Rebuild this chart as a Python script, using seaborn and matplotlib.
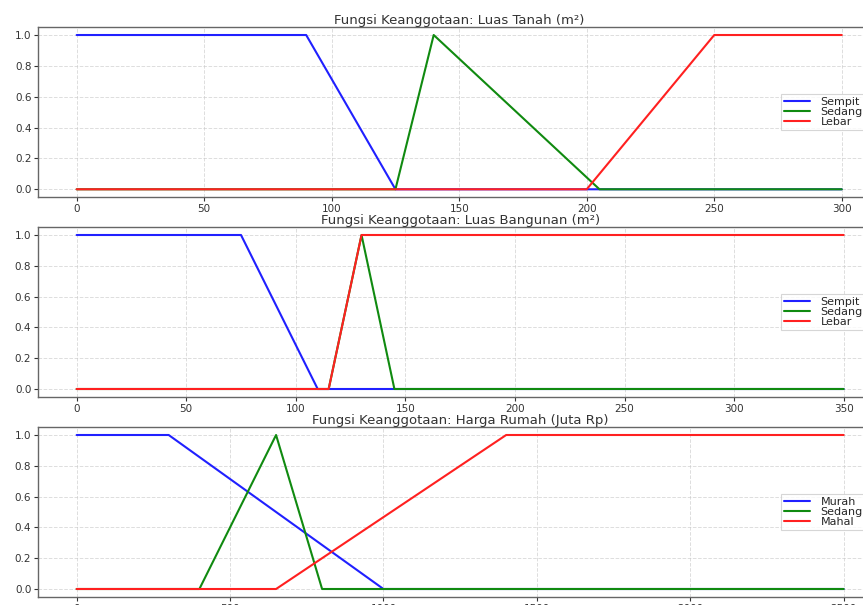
import numpy as np
import pandas as pd
import matplotlib
matplotlib.use("Agg")
import matplotlib.pyplot as plt
import seaborn as sns

# Breakpoints of the membership functions (x, degree)
tanah_sempit_x = [0, 90, 125, 300]
tanah_sempit_y = [1, 1, 0, 0]
tanah_sedang_x = [0, 125, 140, 205, 300]
tanah_sedang_y = [0, 0, 1, 0, 0]
tanah_lebar_x = [0, 200, 250, 300]
tanah_lebar_y = [0, 0, 1, 1]

bangunan_sempit_x = [0, 75, 110, 350]
bangunan_sempit_y = [1, 1, 0, 0]
bangunan_sedang_x = [0, 115, 130, 145, 350]
bangunan_sedang_y = [0, 0, 1, 0, 0]
bangunan_lebar_x = [0, 115, 130, 350]
bangunan_lebar_y = [0, 0, 1, 1]

harga_murah_x = [0, 300, 1000, 2500]
harga_murah_y = [1, 1, 0, 0]
harga_sedang_x = [0, 400, 650, 800, 2500]
harga_sedang_y = [0, 0, 1, 0, 0]
harga_mahal_x = [0, 650, 1400, 2500]
harga_mahal_y = [0, 0, 1, 1]

titles = [
    "Fungsi Keanggotaan: Luas Tanah (m²)",
    "Fungsi Keanggotaan: Luas Bangunan (m²)",
    "Fungsi Keanggotaan: Harga Rumah (Juta Rp)",
]
labels_tanah = ["Sempit", "Sedang", "Lebar"]
labels_bangunan = ["Sempit", "Sedang", "Lebar"]
labels_harga = ["Murah", "Sedang", "Mahal"]
colors = ["#2020ff", "#108a10", "#ff2020"]

panels = [
    (titles[0], labels_tanah,
     [(tanah_sempit_x, tanah_sempit_y), (tanah_sedang_x, tanah_sedang_y), (tanah_lebar_x, tanah_lebar_y)]),
    (titles[1], labels_bangunan,
     [(bangunan_sempit_x, bangunan_sempit_y), (bangunan_sedang_x, bangunan_sedang_y), (bangunan_lebar_x, bangunan_lebar_y)]),
    (titles[2], labels_harga,
     [(harga_murah_x, harga_murah_y), (harga_sedang_x, harga_sedang_y), (harga_mahal_x, harga_mahal_y)]),
]

sns.set_style("ticks")
plt.rcParams["font.family"] = ["DejaVu Sans"]

fig = plt.figure(figsize=(8.63, 6.05), dpi=100)
W, H = 863.0, 605.0
# axes boxes in pixels: (left, top, right, bottom)
boxes = [(38.4, 27.3, 880.0, 197.0),
         (38.3, 227.3, 882.0, 396.7),
         (38.3, 427.3, 882.0, 596.7)]

for (title, labels, series), (l, t, r, b) in zip(panels, boxes):
    ax = fig.add_axes([l / W, (H - b) / H, (r - l) / W, (b - t) / H])
    frames = []
    for lab, (xs, ys) in zip(labels, series):
        frames.append(pd.DataFrame({"x": xs, "mu": ys, "label": lab}))
    df = pd.concat(frames, ignore_index=True)
    sns.lineplot(data=df, x="x", y="mu", hue="label", hue_order=labels,
                 palette=colors, estimator=None, sort=False,
                 linewidth=1.5, ax=ax)
    ax.set_title(title, fontsize=9.5, color="#333333", pad=2)
    ax.set_xlabel("")
    ax.set_ylabel("")
    ax.set_yticks([0.0, 0.2, 0.4, 0.6, 0.8, 1.0])
    ax.tick_params(labelsize=7.5, colors="#333333", length=3, width=0.8, pad=2)
    ax.grid(True, linestyle="--", color="#c8c8c8", alpha=0.6, linewidth=0.7)
    for s in ax.spines.values():
        s.set_color("#666666")
        s.set_linewidth(1.0)
    leg = ax.legend(loc="center left", bbox_to_anchor=((781 - l) / (r - l), 0.5),
                    fontsize=8, labelspacing=0.0, handlelength=2.4,
                    handletextpad=0.9, borderpad=0.25, borderaxespad=0.0,
                    frameon=True, fancybox=False)
    leg.get_frame().set_edgecolor("#cccccc")
    leg.get_frame().set_linewidth(0.8)

fig.savefig("out.png", dpi=100)
